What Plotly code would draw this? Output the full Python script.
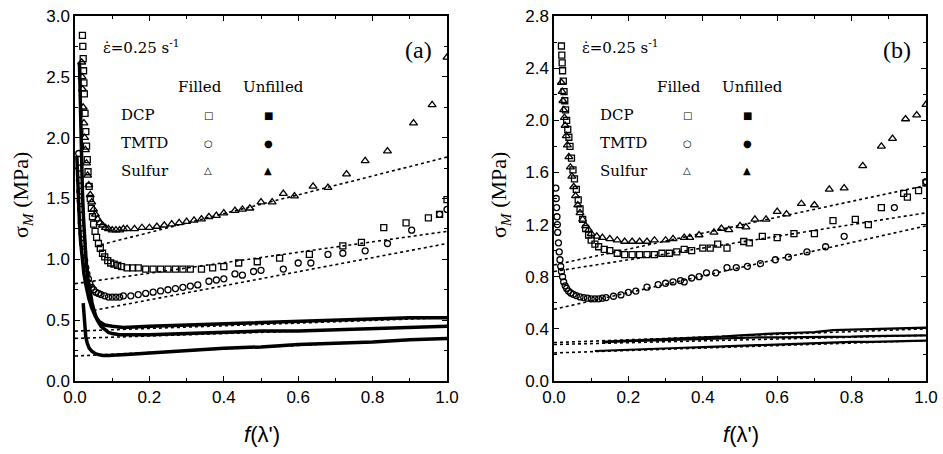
import plotly.graph_objects as go

W, H = 943, 454

# ---------------- Panel (a) data ----------------
a_dcp_f_x = [0.020,0.021,0.022,0.023,0.024,0.025,0.027,0.029,0.031,0.033,0.035,0.038,0.041,0.044,0.047,0.050,0.054,0.058,0.063,0.068,0.074,0.080,0.088,0.096,0.105,0.115,0.125,0.14,0.155,0.17,0.19,0.21,0.23,0.25,0.27,0.29,0.31,0.34,0.37,0.40,0.44,0.49,0.55,0.63,0.72,0.77,0.83,0.89,0.95,0.98,1.0]
a_dcp_f_y = [2.84,2.75,2.65,2.55,2.45,2.36,2.2,2.05,1.93,1.82,1.72,1.6,1.5,1.42,1.35,1.29,1.23,1.18,1.13,1.09,1.05,1.02,0.99,0.97,0.96,0.95,0.94,0.93,0.93,0.93,0.92,0.92,0.92,0.92,0.92,0.92,0.92,0.92,0.93,0.94,0.97,0.98,1.01,1.04,1.11,1.14,1.26,1.30,1.34,1.37,1.49]

a_tmtd_f_x = [0.010,0.011,0.012,0.013,0.014,0.015,0.017,0.019,0.021,0.023,0.026,0.029,0.032,0.036,0.040,0.045,0.050,0.056,0.063,0.070,0.08,0.09,0.10,0.11,0.12,0.13,0.15,0.17,0.19,0.21,0.23,0.25,0.27,0.29,0.31,0.33,0.36,0.38,0.40,0.43,0.45,0.48,0.50,0.56,0.60,0.634,0.68,0.72,0.78,0.84,0.905,0.98,1.0]
a_tmtd_f_y = [1.87,1.75,1.65,1.56,1.48,1.41,1.30,1.21,1.13,1.06,0.99,0.93,0.88,0.84,0.80,0.77,0.75,0.73,0.72,0.71,0.70,0.69,0.69,0.69,0.69,0.70,0.70,0.71,0.72,0.73,0.74,0.75,0.76,0.77,0.78,0.79,0.82,0.83,0.84,0.88,0.87,0.90,0.91,0.92,0.97,0.97,1.04,1.05,1.07,1.13,1.24,1.37,1.41]

a_sul_f_x = [0.018,0.019,0.020,0.022,0.024,0.026,0.028,0.031,0.034,0.037,0.041,0.045,0.050,0.055,0.061,0.067,0.074,0.082,0.090,0.10,0.11,0.12,0.13,0.14,0.16,0.18,0.20,0.22,0.24,0.26,0.28,0.30,0.32,0.34,0.36,0.38,0.40,0.43,0.45,0.47,0.50,0.53,0.56,0.59,0.64,0.68,0.73,0.78,0.84,0.91,0.96,1.0]
a_sul_f_y = [2.62,2.5,2.4,2.25,2.12,2.0,1.9,1.79,1.69,1.61,1.53,1.47,1.41,1.37,1.33,1.30,1.28,1.26,1.25,1.24,1.24,1.24,1.25,1.25,1.25,1.26,1.26,1.27,1.28,1.29,1.30,1.31,1.32,1.33,1.35,1.36,1.38,1.40,1.41,1.42,1.47,1.47,1.54,1.52,1.60,1.59,1.70,1.81,1.89,2.12,2.27,2.66]

a_dcp_u_x = [0.012,0.014,0.016,0.018,0.020,0.023,0.026,0.030,0.035,0.040,0.046,0.053,0.060,0.070,0.080,0.09,0.10,0.12,0.15,0.2,0.3,0.4,0.5,0.6,0.7,0.8,0.9,1.0]
a_dcp_u_y = [2.62,2.3,2.0,1.75,1.55,1.33,1.15,0.98,0.84,0.73,0.64,0.56,0.50,0.45,0.42,0.40,0.39,0.38,0.38,0.38,0.39,0.40,0.41,0.41,0.42,0.43,0.44,0.45]

a_sul_u_x = [0.005,0.007,0.009,0.012,0.015,0.019,0.024,0.03,0.037,0.045,0.055,0.065,0.08,0.10,0.13,0.2,0.3,0.4,0.5,0.6,0.7,0.8,0.9,1.0]
a_sul_u_y = [1.85,1.65,1.48,1.3,1.15,1.0,0.88,0.78,0.68,0.6,0.53,0.49,0.46,0.45,0.44,0.45,0.46,0.47,0.48,0.49,0.50,0.51,0.52,0.52]

a_tmtd_u_x = [0.022,0.024,0.026,0.029,0.033,0.038,0.045,0.055,0.065,0.075,0.09,0.11,0.15,0.2,0.3,0.4,0.5,0.6,0.7,0.8,0.9,1.0]
a_tmtd_u_y = [0.64,0.52,0.43,0.36,0.31,0.27,0.245,0.225,0.215,0.21,0.21,0.215,0.22,0.23,0.25,0.27,0.28,0.30,0.31,0.32,0.34,0.35]

# fit lines (x0, x1), (y0, y1)
a_fits = [
    ([0.07, 1.0], [1.12, 1.84]),
    ([0.0, 1.0], [0.80, 1.23]),
    ([0.05, 1.0], [0.58, 1.13]),
    ([0.0, 1.0], [0.41, 0.52]),
    ([0.0, 1.0], [0.35, 0.45]),
    ([0.0, 1.0], [0.205, 0.35]),
]

# ---------------- Panel (b) data ----------------
b_dcp_f_x = [0.020,0.021,0.022,0.023,0.025,0.027,0.029,0.031,0.034,0.037,0.040,0.043,0.047,0.051,0.055,0.060,0.065,0.070,0.077,0.085,0.093,0.10,0.11,0.12,0.135,0.15,0.17,0.19,0.21,0.23,0.25,0.27,0.29,0.31,0.33,0.35,0.37,0.40,0.42,0.44,0.465,0.51,0.525,0.56,0.60,0.645,0.70,0.75,0.81,0.845,0.88,0.94,0.95,0.98,1.0]
b_dcp_f_y = [2.57,2.5,2.44,2.38,2.3,2.22,2.15,2.08,2.0,1.93,1.87,1.8,1.71,1.62,1.55,1.47,1.39,1.32,1.24,1.17,1.12,1.08,1.05,1.03,1.01,1.0,0.98,0.97,0.97,0.97,0.97,0.97,0.98,0.98,0.99,1.01,1.0,1.02,1.02,1.05,1.02,1.07,1.06,1.11,1.10,1.13,1.13,1.23,1.24,1.20,1.33,1.44,1.41,1.46,1.52]

b_tmtd_f_x = [0.005,0.006,0.007,0.008,0.009,0.010,0.012,0.014,0.016,0.018,0.020,0.023,0.026,0.03,0.034,0.039,0.045,0.052,0.06,0.07,0.08,0.09,0.10,0.11,0.12,0.13,0.14,0.16,0.18,0.20,0.22,0.25,0.28,0.30,0.32,0.34,0.35,0.37,0.39,0.41,0.435,0.465,0.49,0.52,0.555,0.595,0.63,0.68,0.73,0.78,0.915,1.0]
b_tmtd_f_y = [1.48,1.40,1.33,1.26,1.20,1.14,1.06,0.99,0.93,0.88,0.84,0.80,0.76,0.73,0.71,0.69,0.675,0.665,0.655,0.645,0.64,0.635,0.63,0.63,0.63,0.635,0.64,0.65,0.66,0.68,0.69,0.72,0.74,0.75,0.76,0.77,0.76,0.79,0.80,0.83,0.83,0.87,0.87,0.88,0.90,0.93,0.95,0.99,1.03,1.11,1.33,1.53]

b_sul_f_x = [0.020,0.022,0.024,0.026,0.028,0.030,0.033,0.036,0.040,0.044,0.048,0.053,0.058,0.064,0.070,0.077,0.085,0.093,0.10,0.115,0.13,0.15,0.17,0.19,0.21,0.23,0.25,0.27,0.30,0.32,0.35,0.365,0.39,0.43,0.45,0.47,0.50,0.516,0.54,0.57,0.60,0.625,0.665,0.70,0.74,0.78,0.83,0.88,0.91,0.945,0.975,1.0]
b_sul_f_y = [2.29,2.22,2.15,2.08,2.02,1.96,1.88,1.81,1.72,1.64,1.57,1.49,1.42,1.35,1.29,1.24,1.19,1.16,1.13,1.11,1.10,1.09,1.08,1.07,1.07,1.07,1.07,1.08,1.08,1.09,1.10,1.10,1.12,1.14,1.17,1.16,1.19,1.18,1.24,1.24,1.30,1.28,1.36,1.35,1.47,1.48,1.65,1.80,1.86,2.01,2.04,2.12]

b_u_x = [0.13,0.15,0.2,0.25,0.3,0.35,0.4,0.45,0.5,0.55,0.6,0.65,0.7,0.75,0.8,0.85,0.9,0.95,1.0]
b_sul_u_y = [0.30,0.305,0.31,0.315,0.32,0.33,0.335,0.34,0.35,0.36,0.365,0.37,0.375,0.39,0.395,0.40,0.405,0.41,0.41]
b_dcp_u_y = [0.295,0.30,0.305,0.31,0.315,0.32,0.325,0.33,0.33,0.335,0.335,0.335,0.335,0.34,0.34,0.345,0.345,0.35,0.35]
b_tmtd_u_x = [0.11,0.15,0.2,0.25,0.3,0.35,0.4,0.45,0.5,0.55,0.6,0.65,0.7,0.75,0.8,0.85,0.9,0.95,1.0]
b_tmtd_u_y = [0.23,0.235,0.24,0.245,0.25,0.255,0.26,0.265,0.27,0.28,0.285,0.29,0.29,0.295,0.30,0.30,0.305,0.31,0.31]

b_fits = [
    ([0.0, 1.0], [0.89, 1.50]),
    ([0.0, 1.0], [0.84, 1.29]),
    ([0.0, 1.0], [0.55, 1.19]),
    ([0.0, 1.0], [0.295, 0.40]),
    ([0.0, 1.0], [0.28, 0.35]),
    ([0.0, 1.0], [0.215, 0.31]),
]

x_ticks = [0.0, 0.2, 0.4, 0.6, 0.8, 1.0]
a_y_ticks = [0.0, 0.5, 1.0, 1.5, 2.0, 2.5, 3.0]
b_y_ticks = [0.0, 0.4, 0.8, 1.2, 1.6, 2.0, 2.4, 2.8]

fig = go.Figure()

def fit(xs, ys, xa, ya):
    fig.add_trace(go.Scatter(x=xs, y=ys, mode="lines", xaxis=xa, yaxis=ya,
                             line=dict(color="black", width=1.6, dash="dot"),
                             showlegend=False, hoverinfo="skip"))

def pts(xs, ys, sym, size, xa, ya):
    fig.add_trace(go.Scatter(x=xs, y=ys, mode="markers", xaxis=xa, yaxis=ya,
                             marker=dict(symbol=sym, size=size, color="black",
                                         line=dict(color="black", width=1.3)),
                             showlegend=False))

def thick(xs, ys, w, xa, ya):
    fig.add_trace(go.Scatter(x=xs, y=ys, mode="lines", xaxis=xa, yaxis=ya,
                             line=dict(color="black", width=w),
                             showlegend=False))

for fx, fy in a_fits:
    fit(fx, fy, "x", "y")
for fx, fy in b_fits:
    fit(fx, fy, "x2", "y2")

# panel a
thick(a_dcp_u_x, a_dcp_u_y, 3.5, "x", "y")
thick(a_sul_u_x, a_sul_u_y, 3.5, "x", "y")
thick(a_tmtd_u_x, a_tmtd_u_y, 3.5, "x", "y")
pts(a_sul_f_x, a_sul_f_y, "triangle-up-open", 7, "x", "y")
pts(a_dcp_f_x, a_dcp_f_y, "square-open", 6, "x", "y")
pts(a_tmtd_f_x, a_tmtd_f_y, "circle-open", 6, "x", "y")

# panel b
thick(b_u_x, b_sul_u_y, 2.2, "x2", "y2")
thick(b_u_x, b_dcp_u_y, 2.2, "x2", "y2")
thick(b_tmtd_u_x, b_tmtd_u_y, 2.2, "x2", "y2")
pts(b_sul_f_x, b_sul_f_y, "triangle-up-open", 7, "x2", "y2")
pts(b_dcp_f_x, b_dcp_f_y, "square-open", 6, "x2", "y2")
pts(b_tmtd_f_x, b_tmtd_f_y, "circle-open", 6, "x2", "y2")

ax_common = dict(showline=True, linecolor="black", linewidth=1.5, mirror="allticks",
                 ticks="inside", ticklen=5, tickwidth=1.2, tickcolor="black",
                 showgrid=False, zeroline=False,
                 tickfont=dict(family="Liberation Sans, Arial", size=17, color="black"),
                 automargin=False)

def px(x):
    return x / W

def py(y):
    return 1 - y / H

fig.update_layout(
    width=W, height=H, margin=dict(l=0, r=0, t=0, b=0),
    paper_bgcolor="white", plot_bgcolor="white", showlegend=False,
    xaxis=dict(domain=[px(75), px(447)], range=[0, 1], tickvals=x_ticks,
               ticktext=[f"{v:.1f}" for v in x_ticks],
               minor=dict(ticks="inside", ticklen=3, dtick=0.1, tickcolor="black"),
               anchor="y", **ax_common),
    yaxis=dict(domain=[py(381), py(16)], range=[0, 3.0], tickvals=a_y_ticks,
               ticktext=[f"{v:.1f}" for v in a_y_ticks],
               minor=dict(ticks="inside", ticklen=3, dtick=0.25, tickcolor="black"),
               anchor="x", **ax_common),
    xaxis2=dict(domain=[px(554), px(926)], range=[0, 1], tickvals=x_ticks,
                ticktext=[f"{v:.1f}" for v in x_ticks],
                minor=dict(ticks="inside", ticklen=3, dtick=0.1, tickcolor="black"),
                anchor="y2", **ax_common),
    yaxis2=dict(domain=[py(381), py(16)], range=[0, 2.8], tickvals=b_y_ticks,
                ticktext=[f"{v:.1f}" for v in b_y_ticks],
                minor=dict(ticks="inside", ticklen=3, dtick=0.2, tickcolor="black"),
                anchor="x2", **ax_common),
)

serif = "DejaVu Serif, Liberation Serif, serif"
sym_font = "DejaVu Sans"

def ann(text, x, y, size, family=serif, xanchor="center", angle=0, bold=False):
    if bold:
        text = f"<b>{text}</b>"
    fig.add_annotation(text=text, x=px(x), y=py(y), xref="paper", yref="paper",
                       showarrow=False, xanchor=xanchor, yanchor="middle",
                       textangle=angle,
                       font=dict(family=family, size=size, color="black"))

for dx, lab in [(0, "(a)"), (479, "(b)")]:
    ann("\u03b5\u0307=0.25 s<sup>-1</sup>", 101 + dx, 47, 15, xanchor="left")
    ann(lab, 418 + dx, 50, 24, family="Liberation Serif, serif")
    ann("Filled", 200 + dx, 87, 15)
    ann("Unfilled", 273 + dx, 87, 15)
    rows = [("DCP", "\u25a1", "\u25a0"), ("TMTD", "\u25cb", "\u25cf"), ("Sulfur", "\u25b3", "\u25b2")]
    for i, (name, s1, s2) in enumerate(rows):
        yy = 115 + i * 28
        ann(name, 119 + dx, yy, 15, xanchor="left")
        ann(s1, 208 + dx, yy, 10, family=sym_font)
        ann(s2, 268 + dx, yy, 10, family=sym_font)

# axis titles
ann("\u03c3<sub><i>M</i></sub> (MPa)", 22, 195, 22, family="Liberation Serif, serif", angle=-90)
ann("\u03c3<sub><i>M</i></sub> (MPa)", 500, 195, 22, family="Liberation Serif, serif", angle=-90)
ann("<i>f</i>(\u03bb')", 262, 434, 22, family="Liberation Sans, Arial")
ann("<i>f</i>(\u03bb')", 741, 434, 22, family="Liberation Sans, Arial")

fig.write_html("out.html", config={"displayModeBar": False},
               post_script="document.body.style.margin='0';document.body.style.overflow='hidden';")
